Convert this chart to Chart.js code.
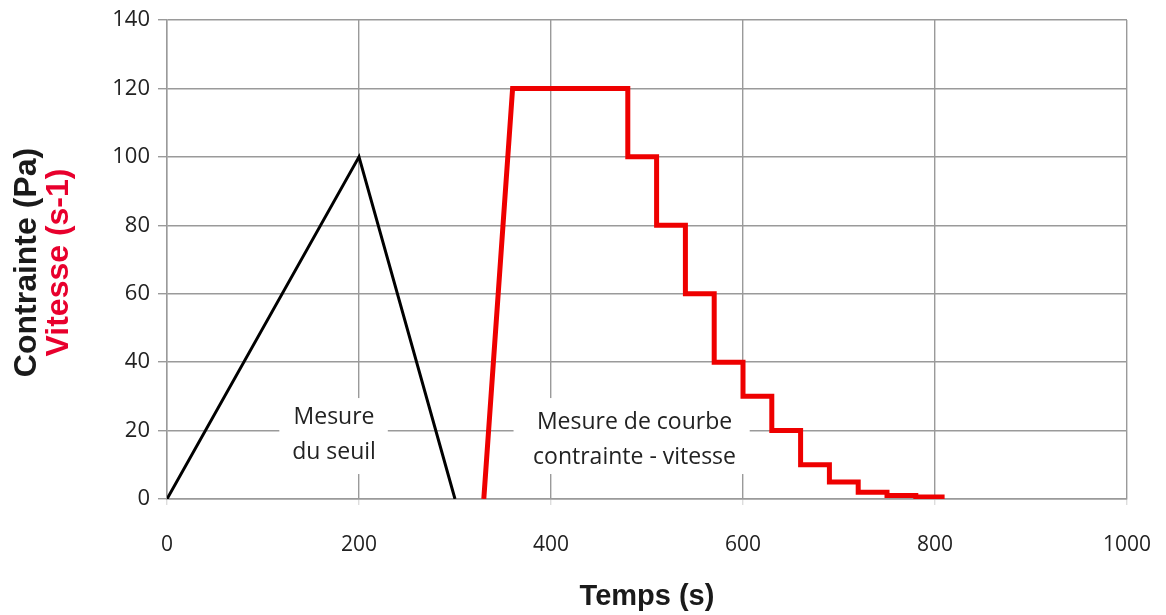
<!DOCTYPE html>
<html>
<head>
<meta charset="utf-8">
<script src="https://cdn.jsdelivr.net/npm/chart.js@4/dist/chart.umd.min.js"></script>
<style>
  html, body { margin: 0; padding: 0; background: #ffffff; }
  #wrap { width: 1166px; height: 615px; }
</style>
</head>
<body>
<div id="wrap"><canvas id="c" width="1166" height="615"></canvas></div>
<script>
// ---- Data ----
const stressTime = [0, 200, 300];
const stressValues = [0, 100, 0];

const rateTime = [330, 360, 480, 480, 510, 510, 540, 540, 570, 570, 600, 600, 630, 630, 660, 660, 690, 690, 720, 720, 750, 750, 780, 780, 810];
const rateValues = [0, 120, 120, 100, 100, 80, 80, 60, 60, 40, 40, 30, 30, 20, 20, 10, 10, 5, 5, 2, 2, 1, 1, 0.6, 0.6];

const xTickMin = 0, xTickMax = 1000, xTickStep = 200;
const yTickMin = 0, yTickMax = 140, yTickStep = 20;

const yTitleLines = ['Contrainte (Pa)', 'Vitesse (s-1)'];
const xTitle = 'Temps (s)';
const noteSeuil = ['Mesure', 'du seuil'];
const noteCourbe = ['Mesure de courbe', 'contrainte - vitesse'];

// ---- Build dataset points ----
const toPoints = (xs, ys) => xs.map((x, i) => ({ x: x, y: ys[i] }));

// Annotation plugin: white boxes with text, placed in data coordinates
const notesPlugin = {
  id: 'notes',
  beforeDatasetsDraw(chart) {
    const { ctx, scales } = chart;
    const xs = scales.x, ys = scales.y;
    const drawNote = (lines, cx, cyTop, x0, x1, y0, y1) => {
      const px0 = xs.getPixelForValue(x0), px1 = xs.getPixelForValue(x1);
      const py0 = ys.getPixelForValue(y0), py1 = ys.getPixelForValue(y1);
      ctx.save();
      ctx.fillStyle = '#ffffff';
      ctx.fillRect(px0, py0, px1 - px0, py1 - py0);
      ctx.fillStyle = '#222222';
      ctx.font = '23px "Open Sans"';
      ctx.textAlign = 'center';
      ctx.textBaseline = 'alphabetic';
      const cxp = xs.getPixelForValue(cx);
      let by = ys.getPixelForValue(cyTop);
      lines.forEach((t, i) => ctx.fillText(t, cxp, by + i * 35));
      ctx.restore();
    };
    drawNote(noteSeuil, 174, 21.8, 117, 230, 29.5, 7.3);
    drawNote(noteCourbe, 487, 20.6, 361, 607, 29.5, 7.3);
  },
  afterDraw(chart) {
    const { ctx } = chart;
    const ys = chart.scales.y;
    const cy = (ys.top + ys.bottom) / 2 + 3;
    ctx.save();
    ctx.font = 'bold 32px "Liberation Sans", Arial, sans-serif';
    ctx.textAlign = 'center';
    ctx.textBaseline = 'alphabetic';
    ctx.translate(36, cy);
    ctx.rotate(-Math.PI / 2);
    ctx.fillStyle = '#1a1a1a';
    ctx.fillText(yTitleLines[0], 0, 0);
    ctx.fillStyle = '#e8002d';
    ctx.fillText(yTitleLines[1], 0, 32);
    ctx.restore();
  }
};

new Chart(document.getElementById('c'), {
  type: 'line',
  data: {
    datasets: [
      {
        label: 'Contrainte',
        data: toPoints(stressTime, stressValues),
        borderColor: '#000000',
        borderWidth: 3,
        pointRadius: 0,
        tension: 0,
        fill: false
      },
      {
        label: 'Vitesse',
        data: toPoints(rateTime, rateValues),
        borderColor: '#ee0000',
        borderWidth: 5,
        pointRadius: 0,
        tension: 0,
        fill: false,
        borderJoinStyle: 'miter'
      }
    ]
  },
  options: {
    responsive: false,
    animation: false,
    devicePixelRatio: 1,
    layout: { padding: { left: 0, right: 39, top: 20, bottom: 0 } },
    plugins: {
      legend: { display: false },
      tooltip: { enabled: false }
    },
    scales: {
      x: {
        type: 'linear',
        min: xTickMin,
        max: xTickMax,
        ticks: {
          stepSize: xTickStep,
          color: '#222222',
          font: { family: 'Open Sans', size: 21 },
          padding: 27,
          maxRotation: 0,
          callback: (v) => String(v)
        },
        grid: { color: '#9a9a9a', lineWidth: 1.4, tickLength: 6, tickColor: '#dddddd' },
        border: { color: '#9a9a9a', width: 1.4 },
        title: {
          display: true,
          text: xTitle,
          color: '#1a1a1a',
          font: { family: 'Liberation Sans', size: 29, weight: 'bold' },
          padding: { top: 0, bottom: 1 }
        },
        afterFit(scale) {
          scale.height = 116;
          scale.paddingLeft = 0;
          scale.paddingRight = 0;
        }
      },
      y: {
        type: 'linear',
        min: yTickMin,
        max: yTickMax,
        ticks: {
          stepSize: yTickStep,
          color: '#222222',
          font: { family: 'Open Sans', size: 22 },
          padding: 8,
          callback: (v) => String(v)
        },
        grid: { color: '#9a9a9a', lineWidth: 1.4, tickLength: 9 },
        border: { color: '#9a9a9a', width: 1.4 },
        afterFit(scale) {
          scale.width = 167;
          scale.paddingTop = 0;
          scale.paddingBottom = 0;
        }
      }
    }
  },
  plugins: [notesPlugin]
});
</script>
</body>
</html>
